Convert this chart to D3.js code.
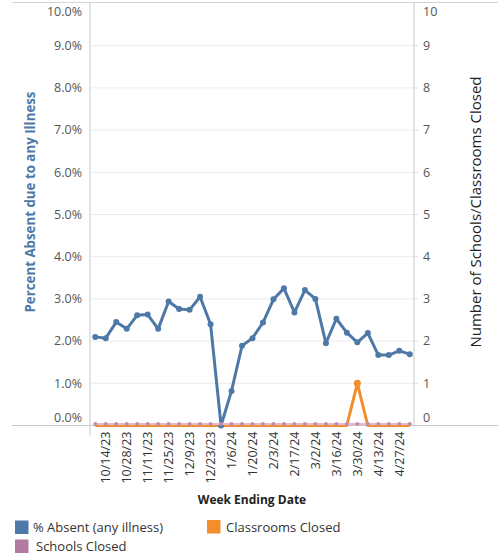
<!DOCTYPE html>
<html><head><meta charset="utf-8">
<script src="https://cdn.jsdelivr.net/npm/d3@7"></script>
<style>
body{margin:0;background:#fff;}
svg text{font-family:"Open Sans","Noto Sans",sans-serif;}
</style></head><body>
<svg id="c" width="498" height="556"></svg>
<script>
const weeks = ["10/7/23","10/14/23","10/21/23","10/28/23","11/4/23","11/11/23","11/18/23","11/25/23","12/2/23","12/9/23","12/16/23","12/23/23","12/30/23","1/6/24","1/13/24","1/20/24","1/27/24","2/3/24","2/10/24","2/17/24","2/24/24","3/2/24","3/9/24","3/16/24","3/23/24","3/30/24","4/6/24","4/13/24","4/20/24","4/27/24","5/4/24"];
const tickWeeks = ["10/14/23","10/28/23","11/11/23","11/25/23","12/9/23","12/23/23","1/6/24","1/20/24","2/3/24","2/17/24","3/2/24","3/16/24","3/30/24","4/13/24","4/27/24"];
const pctAbsent = [2.10,2.07,2.45,2.29,2.61,2.63,2.29,2.94,2.76,2.74,3.05,2.40,0.0,0.82,1.89,2.07,2.44,2.99,3.25,2.68,3.21,3.00,1.95,2.53,2.20,1.97,2.19,1.67,1.67,1.77,1.69];
const classroomsClosed = [0,0,0,0,0,0,0,0,0,0,0,0,0,0,0,0,0,0,0,0,0,0,0,0,0,1,0,0,0,0,0];
const schoolsClosed = [0,0,0,0,0,0,0,0,0,0,0,0,0,0,0,0,0,0,0,0,0,0,0,0,0,0,0,0,0,0,0];
const leftTicks = [0,1,2,3,4,5,6,7,8,9,10];
const rightTicks = [0,1,2,3,4,5,6,7,8,9,10];

const svg = d3.select("#c");
const L = 90, R = 414, T = 3.5, B = 425.5;
const x = d3.scalePoint().domain(weeks).range([L, R+1]).padding(0.5);
const yL = d3.scaleLinear().domain([0,10]).range([B, T]);
const yR = d3.scaleLinear().domain([0,10]).range([B, T]);

// gridlines
svg.append("g").selectAll("line").data(leftTicks.filter(d=>d>0&&d<10)).join("line")
  .attr("x1",L).attr("x2",R).attr("y1",d=>yL(d)).attr("y2",d=>yL(d))
  .attr("stroke","#ececec").attr("stroke-width",1);

// frame
svg.append("line").attr("x1",12).attr("x2",498).attr("y1",2.5).attr("y2",2.5).attr("stroke","#d4d4d4");
svg.append("line").attr("x1",12).attr("x2",498).attr("y1",B).attr("y2",B).attr("stroke","#c8c8c8");
svg.append("line").attr("x1",L).attr("x2",L).attr("y1",2.5).attr("y2",B+10).attr("stroke","#c8c8c8");
svg.append("line").attr("x1",R).attr("x2",R).attr("y1",2.5).attr("y2",B).attr("stroke","#c8c8c8");

// left axis labels
const yLab = d => d===10 ? 12 : (d===0 ? 418 : yL(d));
svg.append("g").selectAll("text").data(leftTicks).join("text")
  .attr("x",L-8).attr("y",d=>yLab(d)).attr("dy","0.35em").attr("text-anchor","end")
  .attr("font-size",12.5).attr("fill","#555").text(d=>d3.format(".1f")(d)+"%");
// right axis labels
svg.append("g").selectAll("text").data(rightTicks).join("text")
  .attr("x",R+9).attr("y",d=>yLab(d)).attr("dy","0.35em").attr("text-anchor","start")
  .attr("font-size",12.5).attr("fill","#555").text(d=>d);
// right small tick marks
svg.append("g").selectAll("line").data(rightTicks.filter(d=>d>0&&d<10)).join("line")
  .attr("x1",R).attr("x2",R+4).attr("y1",d=>yR(d)).attr("y2",d=>yR(d)).attr("stroke","#ddd");

// x axis labels
svg.append("g").selectAll("text").data(tickWeeks).join("text")
  .attr("transform",d=>`translate(${x(d)},${B+6}) rotate(-90)`)
  .attr("dy","0.35em").attr("text-anchor","end")
  .attr("font-size",12.5).attr("fill","#333").text(d=>d);

// axis titles
svg.append("text").attr("transform",`translate(30,202) rotate(-90)`).attr("dy","0.35em")
  .attr("text-anchor","middle").attr("font-size",13.3).attr("font-weight","bold").attr("fill","#4e79a7")
  .text("Percent Absent due to any Illness");
svg.append("text").attr("transform",`translate(476,212) rotate(-90)`).attr("dy","0.35em")
  .attr("text-anchor","middle").attr("font-size",15).attr("fill","#222")
  .text("Number of Schools/Classrooms Closed");
svg.append("text").attr("x",252).attr("y",500).attr("dy","0.35em").attr("text-anchor","middle")
  .attr("font-size",12).attr("font-weight","bold").attr("fill","#222").text("Week Ending Date");

// series
const lineL = d3.line().x((d,i)=>x(weeks[i])).y(d=>yL(d));
const lineR = d3.line().x((d,i)=>x(weeks[i])).y(d=>yR(d));

svg.append("path").datum(classroomsClosed).attr("d",lineR).attr("fill","none")
  .attr("stroke","#f28e2b").attr("stroke-width",3).attr("stroke-linejoin","round");
svg.append("g").selectAll("circle").data(classroomsClosed).join("circle")
  .attr("cx",(d,i)=>x(weeks[i])).attr("cy",d=>yR(d)).attr("r",d=>d>0?3.5:0).attr("fill","#f28e2b");

svg.append("path").datum(pctAbsent).attr("d",lineL).attr("fill","none")
  .attr("stroke","#4e79a7").attr("stroke-width",3).attr("stroke-linejoin","round");
svg.append("g").selectAll("circle").data(pctAbsent).join("circle")
  .attr("cx",(d,i)=>x(weeks[i])).attr("cy",d=>yL(d)).attr("r",3).attr("fill","#4e79a7");

svg.append("path").datum(schoolsClosed).attr("d",d3.line().x((d,i)=>x(weeks[i])).y(d=>yR(d)-1.5))
  .attr("fill","none").attr("stroke","#e5b8cc").attr("stroke-width",2);
svg.append("g").selectAll("circle").data(schoolsClosed).join("circle")
  .attr("cx",(d,i)=>x(weeks[i])).attr("cy",d=>yR(d)-1.5).attr("r",2).attr("fill","#c48bab");

// legend
const legend = [
  {name:"% Absent (any illness)", color:"#4e79a7", x:15, y:520.5, tx:33},
  {name:"Classrooms Closed", color:"#f28e2b", x:207, y:520, tx:226},
  {name:"Schools Closed", color:"#b07aa1", x:15, y:539.5, tx:36}
];
const lg = svg.append("g");
lg.selectAll("rect").data(legend).join("rect")
  .attr("x",d=>d.x).attr("y",d=>d.y).attr("width",13.5).attr("height",13.5).attr("fill",d=>d.color);
lg.selectAll("text").data(legend).join("text")
  .attr("x",d=>d.tx).attr("y",d=>d.y+7).attr("dy","0.35em")
  .attr("font-size",13).attr("fill","#333").text(d=>d.name);
</script>
</body></html>
